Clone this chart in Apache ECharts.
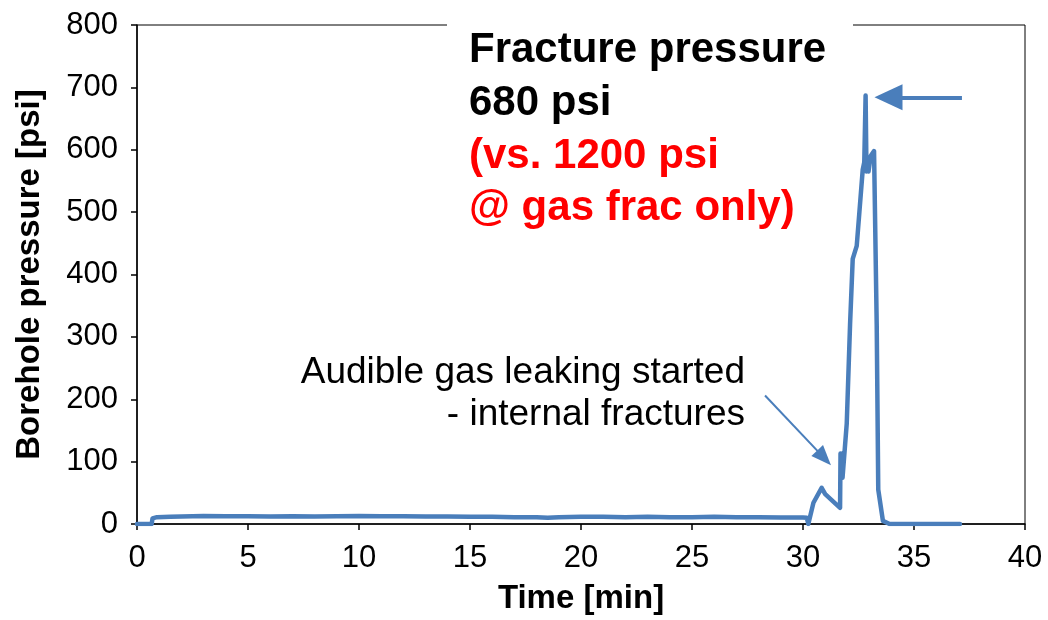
<!DOCTYPE html>
<html>
<head>
<meta charset="utf-8">
<script src="https://cdn.jsdelivr.net/npm/echarts@6/dist/echarts.min.js"></script>
<style>
html,body{margin:0;padding:0;background:#fff;}
#chart{width:1048px;height:620px;}
</style>
</head>
<body>
<div id="chart"></div>
<script>
// Time [min]
const timeMin = [0, 0.66, 0.7, 0.9, 1.5, 2.5, 3, 4, 5, 6, 7, 8, 9, 10, 11, 12, 13, 14, 15, 16, 17, 18, 18.5, 19, 20, 21, 22, 23, 24, 25, 26, 27, 28, 29, 30, 30.17, 30.24, 30.47, 30.84, 31.0, 31.67, 31.69, 31.72, 31.76, 31.78, 31.97, 32.12, 32.24, 32.42, 32.54, 32.69, 32.76, 32.82, 32.86, 32.92, 32.95, 33.05, 33.2, 33.24, 33.32, 33.39, 33.6, 33.9, 37.07];
// Borehole pressure [psi]
const pressurePsi = [0, 0, 9, 11, 11.5, 12.5, 13, 12.5, 12.5, 12, 12.5, 12, 12.5, 13, 12.5, 12.5, 12, 12, 11.5, 11.5, 11, 11, 10, 11, 11.5, 11.5, 11, 11.5, 11, 11, 11.5, 11, 11, 10.5, 10.5, 10, 0, 34, 58, 48, 26, 113, 85, 113, 74, 161, 320, 425, 446, 500, 568, 580, 687, 565, 575, 565, 590, 598, 600, 320, 55, 5, 0, 0];
// Annotation arrows [time, psi] start -> end
const arrowFracture = [[37.16, 684], [33.85, 684]];
const arrowLeak = [[28.29, 206], [30.95, 106]];
const xTicks = [0, 5, 10, 15, 20, 25, 30, 35, 40];
const yTicks = [0, 100, 200, 300, 400, 500, 600, 700, 800];

const blue = '#4a7ebb';
const font = "'Liberation Sans', Arial, sans-serif";
const seriesData = timeMin.map((t, i) => [t, pressurePsi[i]]);

const chart = echarts.init(document.getElementById('chart'), null, {renderer: 'canvas'});
chart.setOption({
  animation: false,
  backgroundColor: '#fff',
  grid: {left: 137, right: 23, top: 25, bottom: 91, show: true, borderColor: '#000', borderWidth: 1, containLabel: false},
  xAxis: {
    type: 'value', min: xTicks[0], max: xTicks[xTicks.length - 1], interval: 5,
    name: 'Time [min]', nameLocation: 'middle', nameGap: 58,
    nameTextStyle: {fontFamily: font, fontSize: 33, fontWeight: 'bold', color: '#000'},
    axisLine: {show: true, lineStyle: {color: '#000', width: 1.5}},
    axisTick: {show: true, length: 6, lineStyle: {color: '#000', width: 1.5}},
    axisLabel: {fontFamily: font, fontSize: 31, color: '#000', margin: 19},
    splitLine: {show: false}
  },
  yAxis: {
    type: 'value', min: yTicks[0], max: yTicks[yTicks.length - 1], interval: 100,
    name: 'Borehole pressure [psi]', nameLocation: 'middle', nameGap: 91, nameRotate: 90,
    nameTextStyle: {fontFamily: font, fontSize: 33, fontWeight: 'bold', color: '#000'},
    axisLine: {show: true, lineStyle: {color: '#000', width: 1.5}},
    axisTick: {show: true, length: 6, lineStyle: {color: '#000', width: 1.5}},
    axisLabel: {fontFamily: font, fontSize: 31, color: '#000', margin: 19},
    splitLine: {show: false}
  },
  series: [{
    type: 'line',
    data: seriesData,
    showSymbol: false,
    symbol: 'none',
    lineStyle: {color: blue, width: 4.5, join: 'round', cap: 'round'},
    itemStyle: {color: blue},
    z: 3,
    markLine: {
      silent: true,
      symbol: ['none', 'triangle'],
      animation: false,
      label: {show: false},
      data: [
        [{coord: arrowFracture[0], symbol: 'none', lineStyle: {width: 4, color: blue, type: 'solid'}},
         {coord: arrowFracture[1], symbol: 'triangle', symbolSize: [26, 28], lineStyle: {width: 4, color: blue, type: 'solid'}}],
        [{coord: arrowLeak[0], symbol: 'none', lineStyle: {width: 2, color: blue, type: 'solid'}},
         {coord: arrowLeak[1], symbol: 'triangle', symbolSize: [16, 20], lineStyle: {width: 2, color: blue, type: 'solid'}}]
      ],
      lineStyle: {color: blue, type: 'solid'},
      itemStyle: {color: blue}
    }
  }],
  graphic: [
    {type: 'rect', shape: {x: 447, y: 14, width: 406, height: 18}, style: {fill: '#fff'}, z: 100},
    {type: 'text', x: 469, y: 24, z: 101,
     style: {text: 'Fracture pressure\n680 psi', font: 'bold 42px ' + font, fill: '#000', lineHeight: 53}},
    {type: 'text', x: 469, y: 130, z: 101,
     style: {text: '(vs. 1200 psi\n@ gas frac only)', font: 'bold 42px ' + font, fill: '#ff0000', lineHeight: 52}},
    {type: 'text', x: 745, y: 352, z: 101,
     style: {text: 'Audible gas leaking started\n- internal fractures', font: '37px ' + font, fill: '#000', lineHeight: 42, align: 'right'}}
  ]
});
</script>
</body>
</html>
